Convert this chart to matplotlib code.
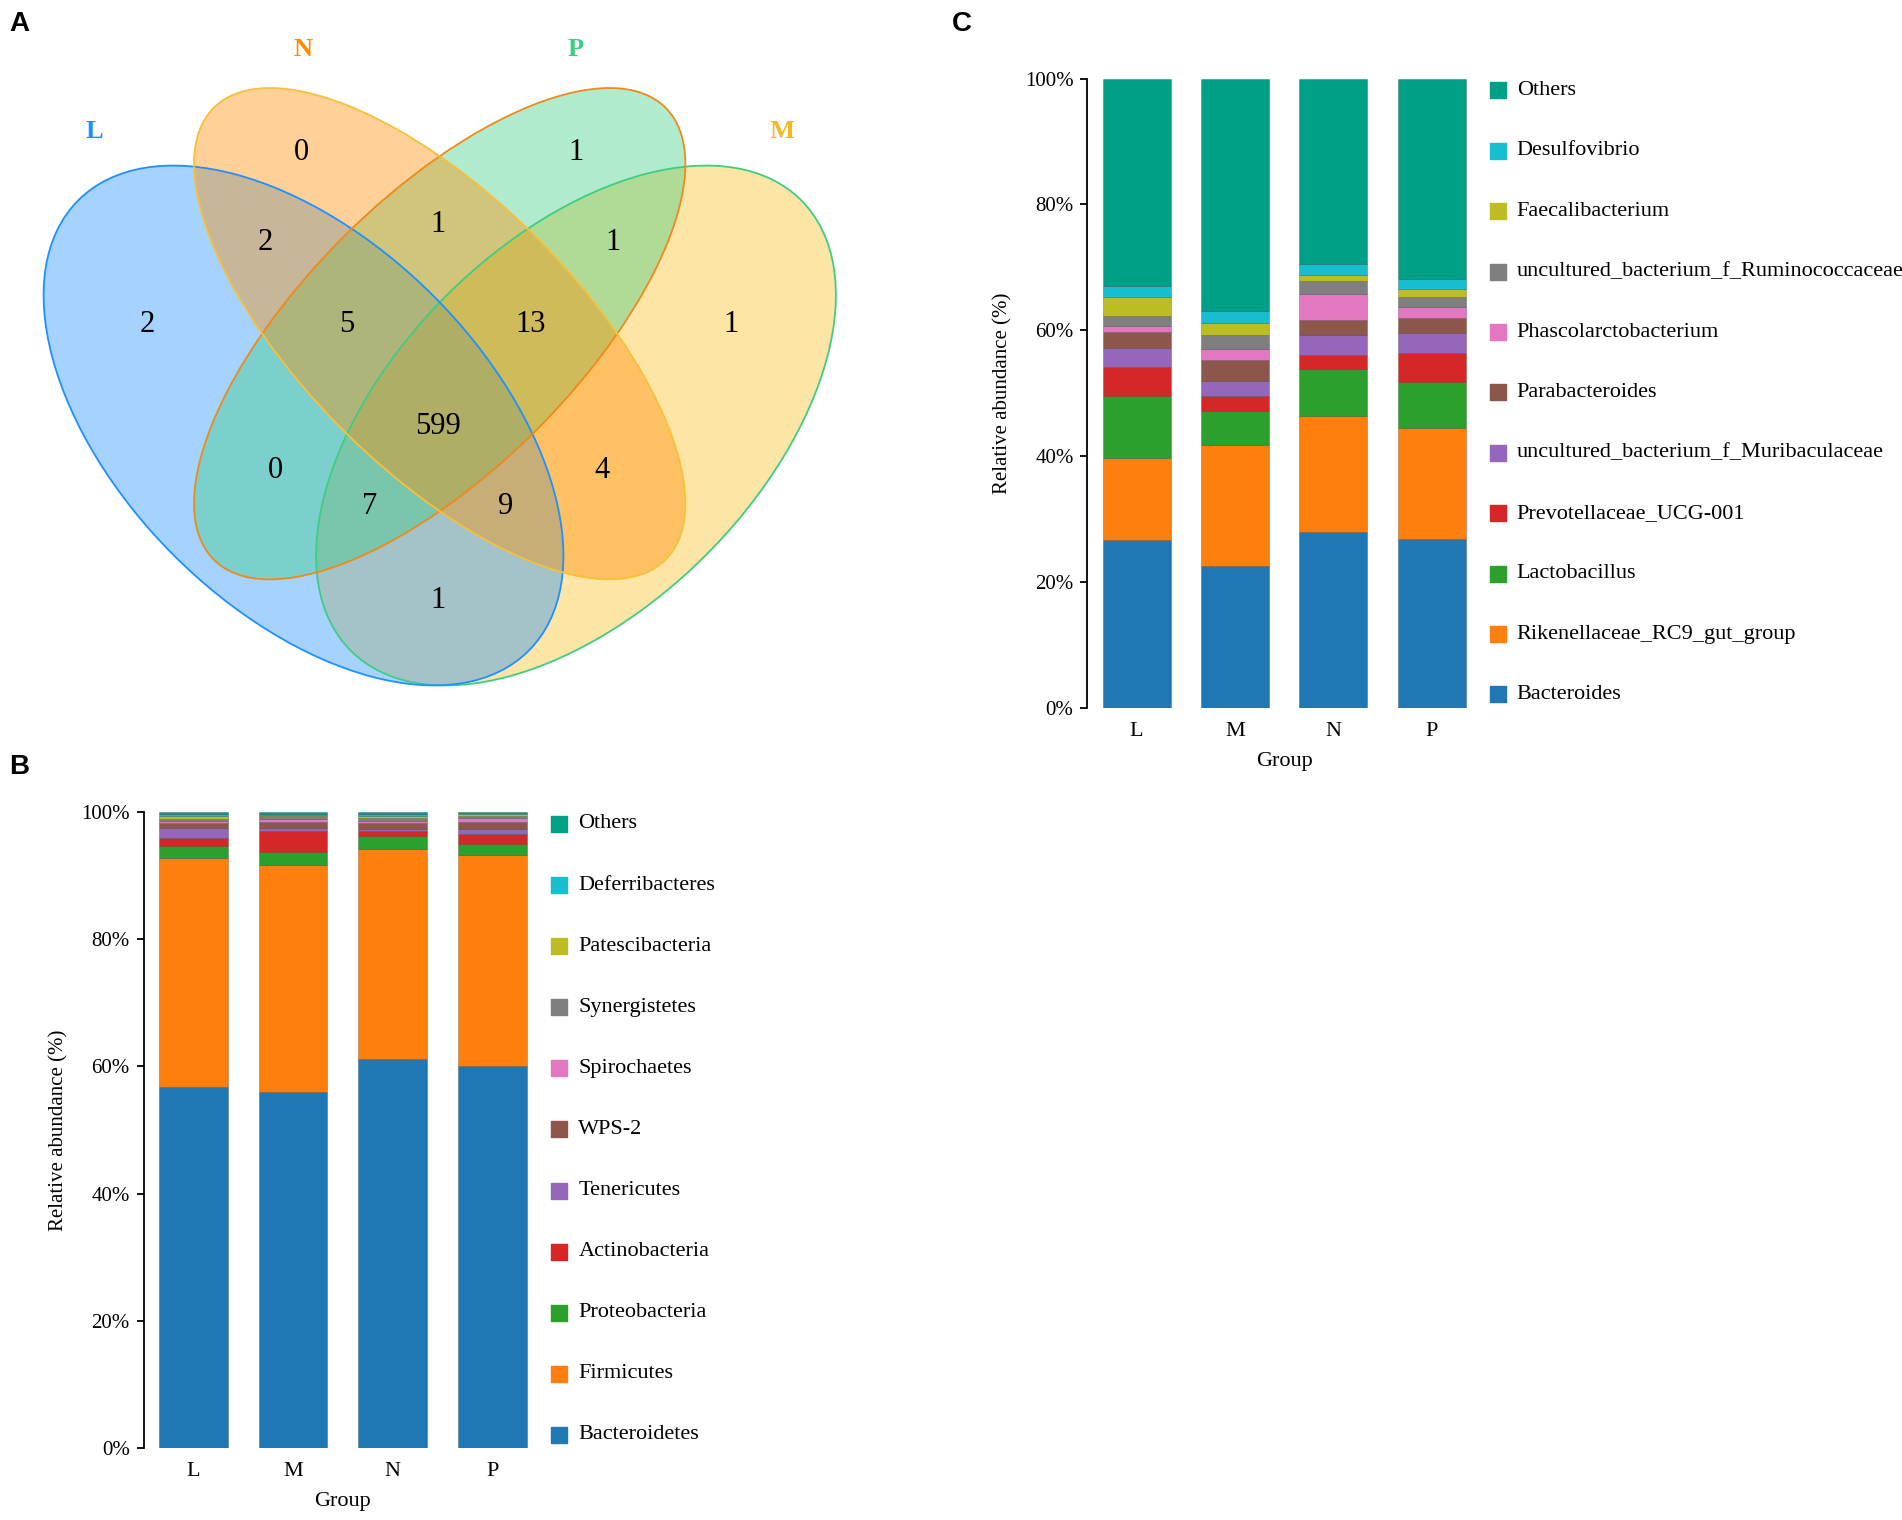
"""
Three-panel figure: 4-set Venn of shared OTUs (A), phylum-level (B) and
genus-level (C) stacked relative abundance per group.
"""
import numpy as np
import matplotlib.pyplot as plt
from matplotlib.patches import Ellipse

plt.rcParams["font.family"] = ["Liberation Serif", "DejaVu Serif"]

# ── Data ──────────────────────────────────────────────────────────────────────
venn_sets = ["L", "N", "P", "M"]
venn_regions = ["L", "N", "P", "M", "LN", "NP", "PM", "LNP", "NPM",
                "LNPM", "LP", "LPM", "LNM", "NM", "LM"]
venn_counts = [2, 0, 1, 1, 2, 1, 1, 5, 13, 599, 0, 7, 9, 4, 1]

groups = ["L", "M", "N", "P"]

# phylum level, bottom -> top of the stack
phylum_names = ["Bacteroidetes", "Firmicutes", "Proteobacteria", "Actinobacteria",
                "Tenericutes", "WPS-2", "Spirochaetes", "Synergistetes",
                "Patescibacteria", "Deferribacteres", "Others"]
phylum_L = [56.7, 36.1, 1.9, 1.2, 1.6, 0.7, 0.4, 0.3, 0.5, 0.2, 0.4]
phylum_M = [56.0, 35.6, 2.1, 3.3, 0.4, 1.0, 0.5, 0.4, 0.2, 0.2, 0.3]
phylum_N = [61.2, 33.0, 2.0, 0.8, 0.3, 0.9, 0.4, 0.4, 0.3, 0.3, 0.4]
phylum_P = [60.1, 33.1, 1.7, 1.6, 0.8, 1.1, 0.7, 0.3, 0.2, 0.2, 0.2]

# genus level, bottom -> top of the stack
genus_names = ["Bacteroides", "Rikenellaceae_RC9_gut_group", "Lactobacillus",
               "Prevotellaceae_UCG-001", "uncultured_bacterium_f_Muribaculaceae",
               "Parabacteroides", "Phascolarctobacterium",
               "uncultured_bacterium_f_Ruminococcaceae", "Faecalibacterium",
               "Desulfovibrio", "Others"]
genus_L = [26.6, 13.1, 9.8, 4.6, 3.1, 2.5, 1.0, 1.5, 3.1, 1.7, 33.0]
genus_M = [22.5, 19.3, 5.3, 2.4, 2.5, 3.2, 1.8, 2.2, 2.0, 1.8, 37.0]
genus_N = [27.9, 18.5, 7.4, 2.2, 3.2, 2.4, 4.1, 2.1, 1.0, 1.7, 29.5]
genus_P = [26.8, 17.6, 7.4, 4.5, 3.3, 2.3, 1.8, 1.6, 1.3, 1.5, 31.9]

# ── Styles / layout ───────────────────────────────────────────────────────────
W, H = 1902, 1520
STACK_COLORS = ["#1f77b4", "#ff7f0e", "#2ca02c", "#d62728", "#9467bd", "#8c564b",
                "#e377c2", "#7f7f7f", "#bcbd22", "#17becf", "#00a087"]

# venn geometry in pixel space: centre, width, height, angle, fill, edge
VENN_SHAPES = {
    "L": ((303.5, 425.5), 637, 367, 45, "#1e90ff", "#1e90ff"),
    "N": ((439.7, 333.7), 639, 273, 45, "#ff8c00", "#f7c03a"),
    "P": ((439.7, 333.7), 639, 273, -45, "#3ecd82", "#ee8a1a"),
    "M": ((576.0, 425.5), 637, 367, -45, "#fabe1e", "#3ecd82"),
}
VENN_DRAW_ORDER = ["M", "L", "P", "N"]
VENN_LABEL_POS = {"L": (94, 131), "N": (303, 50), "P": (576, 50), "M": (782, 131)}
VENN_LABEL_COLOR = {"L": "#1e90ff", "N": "#ff8c00", "P": "#3ecd82", "M": "#f7b81f"}
VENN_COUNT_POS = {
    "L": (147, 325), "N": (301, 152), "P": (576, 152), "M": (731, 325),
    "LN": (265, 242), "NP": (438, 224), "PM": (613, 242),
    "LNP": (347, 325), "NPM": (531, 325), "LNPM": (438, 426),
    "LP": (275, 470), "LPM": (370, 506), "LNM": (506, 506),
    "NM": (602, 470), "LM": (438, 600),
}


def px_box(left, bottom_px, width, height):
    """Axes rectangle from pixel coordinates (y measured from top)."""
    return [left / W, 1 - bottom_px / H, width / W, height / H]


def draw_venn(fig):
    ax = fig.add_axes([0, 0, 1, 1])
    ax.set_xlim(0, W)
    ax.set_ylim(H, 0)
    ax.axis("off")
    for name in VENN_DRAW_ORDER:
        c, w, h, ang, fill, _ = VENN_SHAPES[name]
        ax.add_patch(Ellipse(c, w, h, angle=ang, facecolor=fill, alpha=0.4,
                             edgecolor="none"))
    for name in VENN_DRAW_ORDER:
        c, w, h, ang, _, edge = VENN_SHAPES[name]
        ax.add_patch(Ellipse(c, w, h, angle=ang, facecolor="none",
                             edgecolor=edge, lw=1.3))
    for name in venn_sets:
        x, y = VENN_LABEL_POS[name]
        ax.text(x, y, name, ha="center", va="center", fontsize=19,
                fontweight="bold", color=VENN_LABEL_COLOR[name])
    for region, count in zip(venn_regions, venn_counts):
        x, y = VENN_COUNT_POS[region]
        ax.text(x, y, str(count), ha="center", va="center", fontsize=22,
                color="black")


def draw_stack(ax, names, table, ylabel_x):
    table = np.asarray(table, dtype=float)  # rows = groups, cols = taxa
    x = np.arange(len(groups))
    bottoms = np.zeros(len(groups))
    for i, name in enumerate(names):
        ax.bar(x, table[:, i], width=0.69, bottom=bottoms, color=STACK_COLORS[i],
               edgecolor=(0, 0, 0, 0.25), lw=0.6)
        bottoms += table[:, i]

    ax.set_xlim(-0.5, 3.5)
    ax.set_ylim(0, 100)
    for s in ("top", "right", "bottom"):
        ax.spines[s].set_visible(False)
    ax.spines["left"].set_linewidth(1.3)
    ax.set_yticks(np.arange(0, 101, 20))
    ax.set_yticklabels([f"{v}%" for v in range(0, 101, 20)], fontsize=15)
    ax.tick_params(axis="y", length=5, width=1.3, pad=5)
    ax.set_xticks(x)
    ax.set_xticklabels(groups, fontsize=16)
    ax.tick_params(axis="x", length=0, pad=10)
    ax.set_xlabel("Group", fontsize=16, labelpad=8)
    ax.set_ylabel("Relative abundance (%)", fontsize=15)
    ax.yaxis.set_label_coords(ylabel_x, 0.5)

    # hand-built legend, top entry = last stacked taxon
    for i, name in enumerate(names):
        y = 0.021 + i * 0.096
        ax.scatter([1.042], [y], marker="s", s=125, color=STACK_COLORS[i],
                   transform=ax.transAxes, clip_on=False)
        ax.text(1.091, y, name, transform=ax.transAxes, ha="left", va="center",
                fontsize=16)


def main():
    fig = plt.figure(figsize=(W / 100, H / 100), dpi=100)
    draw_venn(fig)

    ax_b = fig.add_axes(px_box(143.7, 1448.3, 398.4, 636.4))
    draw_stack(ax_b, phylum_names, [phylum_L, phylum_M, phylum_N, phylum_P], -0.19)

    ax_c = fig.add_axes(px_box(1087.4, 707.7, 393.6, 629.2))
    draw_stack(ax_c, genus_names, [genus_L, genus_M, genus_N, genus_P], -0.19)

    for letter, (px, py) in {"A": (19, 24), "B": (19, 767), "C": (962, 24)}.items():
        fig.text(px / W, 1 - py / H, letter, ha="center", va="center",
                 fontsize=20, fontweight="bold", family="Liberation Sans")

    fig.savefig("out.png", dpi=100)


if __name__ == "__main__":
    main()
